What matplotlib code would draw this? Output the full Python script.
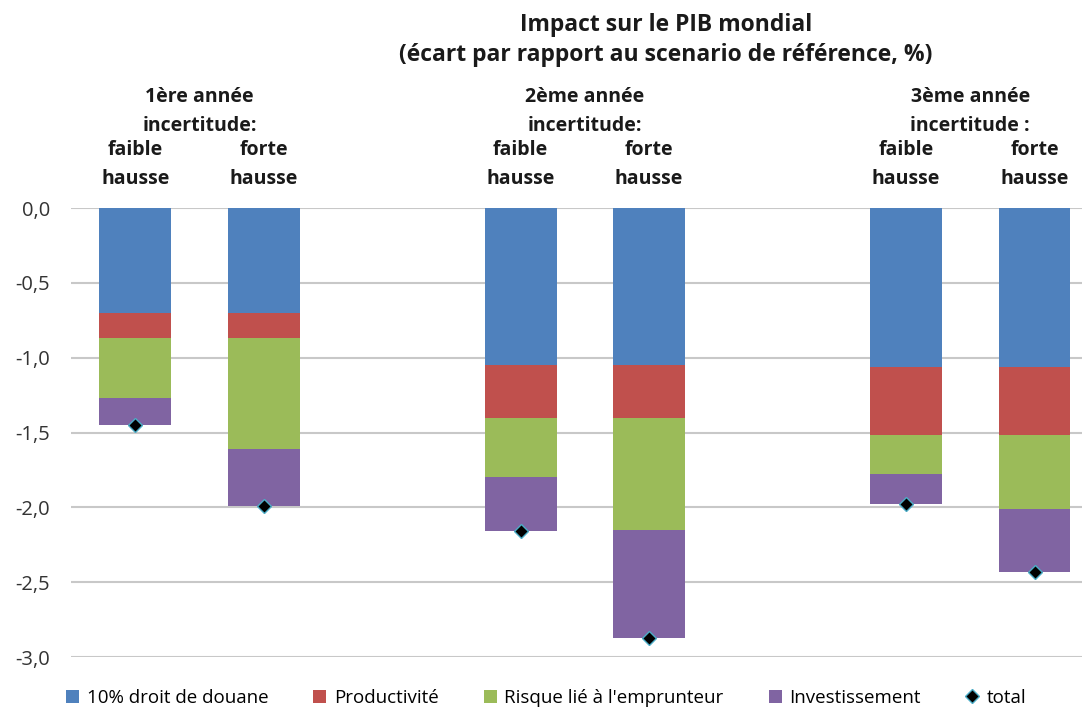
import matplotlib
matplotlib.use("Agg")
import matplotlib.pyplot as plt
import numpy as np
from matplotlib.lines import Line2D
from matplotlib.patches import Patch

# ---- data ----
groups = ["1ère année\nincertitude:", "2ème année\nincertitude:", "3ème année\nincertitude :"]
scenarios = ["faible\nhausse", "forte\nhausse"]
series_names = ["10% droit de douane", "Productivité", "Risque lié à l'emprunteur", "Investissement"]
douane = [-0.70, -0.70, -1.05, -1.05, -1.06, -1.06]
productivite = [-0.17, -0.17, -0.35, -0.35, -0.46, -0.46]
risque = [-0.40, -0.74, -0.40, -0.75, -0.26, -0.49]
investissement = [-0.18, -0.38, -0.36, -0.72, -0.20, -0.42]
total = [-1.45, -1.99, -2.16, -2.87, -1.98, -2.43]
yticks = [0.0, -0.5, -1.0, -1.5, -2.0, -2.5, -3.0]
colors = ["#4F81BD", "#C0504D", "#9BBB59", "#8064A2"]

FONT = "Open Sans"
plt.rcParams["font.family"] = [FONT, "DejaVu Sans"]

fig = plt.figure(figsize=(10.82, 7.11), dpi=100)
W, H = 1082, 711
ax = fig.add_axes([71 / W, (H - 657) / H, (W - 71) / W, 449 / H])

# positions: two bars per group, one empty slot between groups
x = np.array([g * 3 + s for g in range(len(groups)) for s in range(len(scenarios))], dtype=float)
width = 0.56

bottom = np.zeros(len(x))
for vals, col, name in zip([douane, productivite, risque, investissement], colors, series_names):
    vals = np.array(vals)
    ax.bar(x, vals, width, bottom=bottom, color=col, label=name, zorder=2)
    bottom = bottom + vals

ax.plot(x, total, linestyle="none", marker="D", markersize=7.5, markerfacecolor="black",
        markeredgecolor="#4BACC6", markeredgewidth=1.0, zorder=3)

ax.set_ylim(-3.0, 0.0)
ax.set_xlim(-0.5, (W - 135) / 128.5)
ax.set_yticks(yticks)
ax.set_yticklabels([f"{v:.1f}".replace(".", ",") for v in yticks], fontsize=14.5, color="#333333")
ax.tick_params(axis="y", length=0, pad=15)
ax.set_xticks([])
for sp in ax.spines.values():
    sp.set_visible(False)
ax.grid(axis="y", color="#C8C8C8", linewidth=1.5, zorder=0)
ax.set_axisbelow(True)

trans = ax.get_xaxis_transform()
for xi, lab in zip(x, scenarios * len(groups)):
    ax.text(xi, 1.097, lab, transform=trans, ha="center", va="center", fontsize=14,
            fontweight="bold", linespacing=1.65, color="#1a1a1a")
for g, lab in enumerate(groups):
    xc = g * 3 + 0.5
    ax.text(xc, 1.214, lab, transform=trans, ha="center", va="center", fontsize=14,
            fontweight="bold", linespacing=1.6, color="#1a1a1a")

fig.text(666 / W, (H - 40) / H, "Impact sur le PIB mondial\n(écart par rapport au scenario de référence, %)",
         ha="center", va="center", fontsize=16.5, fontweight="bold", linespacing=1.3, color="#1a1a1a")

handles = [Patch(facecolor=c, edgecolor="none") for c in colors]
handles.append(Line2D([], [], linestyle="none", marker="D", markersize=7.5, markerfacecolor="black",
                      markeredgecolor="#4BACC6"))
labels = series_names + ["total"]
fig.legend(handles, labels, loc="center", bbox_to_anchor=(546 / W, 13 / H), ncol=5, frameon=False,
           fontsize=13.5, handlelength=0.7, handleheight=0.7, handletextpad=0.4, columnspacing=2.4)

fig.savefig("out.png", dpi=100)
